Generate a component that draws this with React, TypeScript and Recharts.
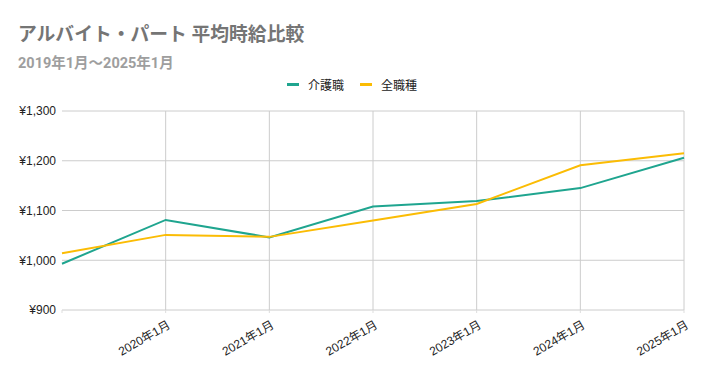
import { LineChart, Line, XAxis, YAxis, CartesianGrid } from 'recharts';

const months = ['2019年1月', '2020年1月', '2021年1月', '2022年1月', '2023年1月', '2024年1月', '2025年1月'];
const careWage = [993, 1081, 1046, 1108, 1119, 1145, 1206];
const allWage = [1014, 1051, 1047, 1080, 1113, 1191, 1215];
const yTicks = [900, 1000, 1100, 1200, 1300];

const data = months.map((m, i) => ({ month: m, care: careWage[i], all: allWage[i] }));

const TITLE_FONT = "Roboto, 'Noto Sans CJK JP', sans-serif";
const AXIS_FONT = "'Liberation Sans', Arial, 'Noto Sans CJK JP', sans-serif";
const TEAL = '#1fa58f';
const YELLOW = '#fbbc04';

const XTick = ({ x, y, payload, index }: any) => {
  if (index === 0) return null;
  return (
    <text
      transform={`translate(${x + 3},${y + 8}) rotate(-30)`}
      textAnchor="end"
      dy={5}
      fontSize={12}
      fill="#222"
      fontFamily={AXIS_FONT}
    >
      {payload.value}
    </text>
  );
};

export default function App() {
  return (
    <div style={{ position: 'absolute', left: 0, top: 0, width: 704, height: 371, background: '#fff' }}>
      <div style={{ position: 'absolute', left: 18, top: 19, fontSize: 18.8, fontWeight: 700, color: '#757575', fontFamily: TITLE_FONT, whiteSpace: 'nowrap' }}>
        アルバイト・パート 平均時給比較
      </div>
      <div style={{ position: 'absolute', left: 18, top: 51, fontSize: 14.5, fontWeight: 700, color: '#9e9e9e', fontFamily: TITLE_FONT, whiteSpace: 'nowrap' }}>
        2019年1月～2025年1月
      </div>
      <div style={{ position: 'absolute', left: 0, width: 704, top: 76, display: 'flex', justifyContent: 'center', gap: 16, fontSize: 12, color: '#222', fontFamily: AXIS_FONT }}>
        {[{ n: '介護職', c: TEAL }, { n: '全職種', c: YELLOW }].map(d => (
          <div key={d.n} style={{ display: 'flex', alignItems: 'center', gap: 9 }}>
            <span style={{ width: 12, height: 3, background: d.c, display: 'inline-block' }} />
            <span>{d.n}</span>
          </div>
        ))}
      </div>
      <LineChart
        width={704}
        height={371}
        data={data}
        margin={{ top: 111, right: 20, left: 0, bottom: 0 }}
      >
        <CartesianGrid
          stroke="#cccccc"
          verticalCoordinatesGenerator={({ offset }: any) =>
            months.slice(1).map((_, i) => offset.left + ((i + 1) * offset.width) / (months.length - 1))
          }
        />
        <XAxis
          dataKey="month"
          interval={0}
          height={61}
          axisLine={false}
          tickLine={{ stroke: '#ddd' }}
          tickSize={3}
          tick={<XTick />}
        />
        <YAxis
          domain={[900, 1300]}
          ticks={yTicks}
          width={62}
          axisLine={false}
          tickLine={false}
          tickMargin={0}
          tick={{ fontSize: 12, fill: '#222', fontFamily: AXIS_FONT }}
          tickFormatter={(v: number) => `¥${v.toLocaleString('en-US')}`}
        />
        <Line dataKey="care" stroke={TEAL} strokeWidth={2} dot={false} isAnimationActive={false} />
        <Line dataKey="all" stroke={YELLOW} strokeWidth={2} dot={false} isAnimationActive={false} />
      </LineChart>
    </div>
  );
}
